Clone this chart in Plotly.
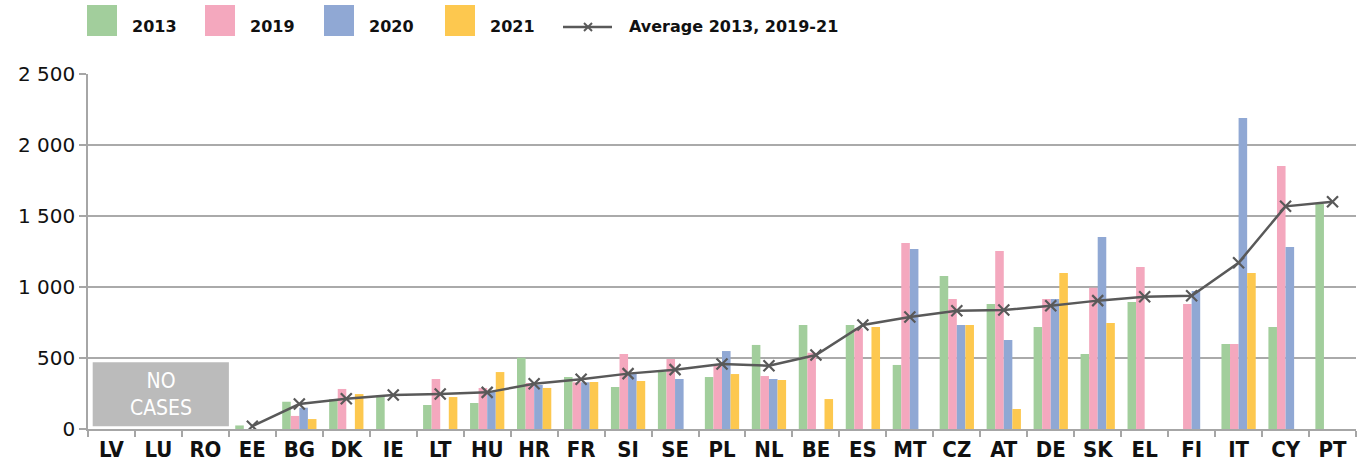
import plotly.graph_objects as go

countries = ["LV", "LU", "RO", "EE", "BG", "DK", "IE", "LT", "HU", "HR", "FR", "SI", "SE", "PL",
             "NL", "BE", "ES", "MT", "CZ", "AT", "DE", "SK", "EL", "FI", "IT", "CY", "PT"]
v2013 = [None, None, None, 25, 192, 211, 235, 169, 183, 502, 366, 296, 404, 366,
         592, 732, 732, 451, 1077, 880, 718, 528, 894, None, 599, 718, 1585]
v2019 = [None, None, None, None, 92, 282, None, 352, 289, 324, 329, 528, 493, 450,
         373, 537, 709, 1310, 915, 1254, 915, 995, 1141, 880, 599, 1852, None]
v2020 = [None, None, None, None, 150, None, None, None, 260, 310, 329, 387, 352, 549,
         352, None, None, 1268, 732, 627, 915, 1352, None, 972, 2190, 1282, None]
v2021 = [None, None, None, None, 70, 246, None, 225, 401, 289, 331, 338, None, 387,
         345, 211, 718, None, 732, 141, 1099, 746, None, None, 1099, None, None]
avg = [None, None, None, 20, 176, 213, 239, 246, 258, 319, 350, 390, 418, 458,
       446, 521, 732, 789, 833, 838, 868, 904, 932, 939, 1171, 1568, 1600]

series_names = ["2013", "2019", "2020", "2021"]
series_vals = [v2013, v2019, v2020, v2021]
colors = ["#A2CE9C", "#F4A8BE", "#90A8D4", "#FDC84F"]
line_color = "#595959"
avg_name = "Average 2013, 2019-21"

W, H = 1362, 464
ML, MR, MT, MB = 88, 6, 74, 35
PW, PH = W - ML - MR, H - MT - MB

def px(x):
    return (x - ML) / PW

def py(y):
    return (H - MB - y) / PH

fig = go.Figure()
for name, vals, c in zip(series_names, series_vals, colors):
    fig.add_trace(go.Bar(x=countries, y=vals, name=name, marker=dict(color=c, line=dict(width=0)),
                         showlegend=False))
fig.add_trace(go.Scatter(x=countries, y=avg, name=avg_name, mode="lines+markers",
                         line=dict(color=line_color, width=2.5),
                         marker=dict(symbol="x-thin", size=11, line=dict(color=line_color, width=2.2)),
                         showlegend=False))

shapes = []
annotations = []
# No cases box
shapes.append(dict(type="rect", xref="x", yref="y", x0=-0.4, x1=2.5, y0=20, y1=470,
                   fillcolor="#BBBBBB", line=dict(width=0), layer="above"))
annotations.append(dict(xref="x", yref="y", x=1.05, y=245, text="NO<br>CASES", showarrow=False,
                        font=dict(family="DejaVu Sans Condensed, DejaVu Sans", size=21, color="white")))

# manual legend
leg_x = [87, 205, 324, 445]
for lx, name, c in zip(leg_x, series_names, colors):
    shapes.append(dict(type="rect", xref="paper", yref="paper", x0=px(lx), x1=px(lx + 30),
                       y0=py(36), y1=py(5), fillcolor=c, line=dict(width=0)))
    annotations.append(dict(xref="paper", yref="paper", x=px(lx + 43), y=py(27), text=name,
                            xanchor="left", yanchor="middle", showarrow=False,
                            font=dict(family="DejaVu Sans", size=16, color="#111111", weight="bold")))
shapes.append(dict(type="line", xref="paper", yref="paper", x0=px(563), x1=px(612), y0=py(27), y1=py(27),
                   line=dict(color=line_color, width=2.5)))
for dy in [1, -1]:
    shapes.append(dict(type="line", xref="paper", yref="paper", x0=px(588 - 4), x1=px(588 + 4),
                       y0=py(27 - 4 * dy), y1=py(27 + 4 * dy), line=dict(color=line_color, width=2)))
annotations.append(dict(xref="paper", yref="paper", x=px(627), y=py(27), text=avg_name,
                        xanchor="left", yanchor="middle", showarrow=False,
                        font=dict(family="DejaVu Sans", size=16, color="#111111", weight="bold")))

fig.update_layout(
    width=W, height=H,
    margin=dict(l=ML, r=MR, t=MT, b=MB),
    plot_bgcolor="white", paper_bgcolor="white",
    barmode="group", bargap=0.27, bargroupgap=0,
    separators=". ",
    shapes=shapes, annotations=annotations,
    showlegend=False,
    xaxis=dict(type="category", range=[-0.5, 26.5], tickson="boundaries", ticks="outside", ticklen=6,
               tickcolor="#A6A6A6", tickwidth=1.5, showline=True, linecolor="#A6A6A6",
               linewidth=1.5, showgrid=False, tickangle=0, automargin=False,
               tickfont=dict(family="Liberation Sans Narrow, DejaVu Sans Condensed", size=22,
                             color="#111111", weight="bold")),
    yaxis=dict(range=[0, 2500], dtick=500, tickformat=",d", ticks="outside", ticklen=7,
               tickcolor="#A6A6A6", tickwidth=1.5, showline=True, linecolor="#A6A6A6",
               linewidth=1.5, showgrid=True, gridcolor="#AAAAAA", gridwidth=1.5,
               zeroline=False, automargin=False,
               tickfont=dict(family="DejaVu Sans", size=20, color="#111111")),
)
fig.write_html("out.html", config={"displayModeBar": False},
               post_script="document.body.style.margin='0';document.body.style.overflow='hidden';")
